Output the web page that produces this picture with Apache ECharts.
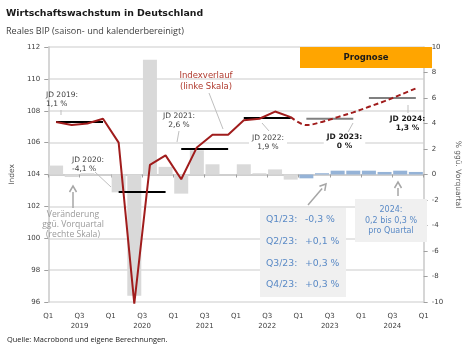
<!DOCTYPE html>
<html><head><meta charset="utf-8">
<script src="https://cdn.jsdelivr.net/npm/echarts@6/dist/echarts.min.js"></script>
<style>html,body{margin:0;padding:0;background:#fff}#c{width:470px;height:359px}</style>
</head><body><div id="c"></div>
<script>
// ---- data ----
const firstYear = 2019;
const quarterLabels = ['Q1', 'Q3'];
const growthHist = [0.7, -0.2, 0.1, 0.0, -1.4, -9.5, 9.0, 0.6, -1.5, 1.9, 0.8, 0.0, 0.8, 0.1, 0.4, -0.4];
const growthForecast = [-0.3, 0.1, 0.3, 0.3, 0.3, 0.2, 0.3, 0.2];
const indexHist = [107.3, 107.1, 107.2, 107.5, 106.0, 95.9, 104.6, 105.2, 103.7, 105.7, 106.5, 106.5, 107.4, 107.5, 107.95, 107.6];
const indexForecast = [107.1, 107.3, 107.6, 107.9, 108.25, 108.6, 109.0, 109.4];
const annualYears = [2019, 2020, 2021, 2022, 2023, 2024];
const annualAvg = [107.3, 102.9, 105.6, 107.55, 107.5, 108.8];
const forecastYears = [2023, 2024];

// ---- build ----
const nHist = growthHist.length;
const barData = [];
growthHist.forEach((v, i) => barData.push({ value: [i + 0.5, v], itemStyle: { color: '#d9d9d9' } }));
growthForecast.forEach((v, i) => barData.push({ value: [nHist + i + 0.5, v], itemStyle: { color: '#95b3d7' } }));
const histLine = indexHist.map((v, i) => [i + 0.5, v]);
const fcLine = [[nHist - 0.5, indexHist[nHist - 1]]].concat(indexForecast.map((v, i) => [nHist + i + 0.5, v]));
const avgSeries = annualYears.map((y, k) => {
  const s = (y - firstYear) * 4;
  const fc = forecastYears.includes(y);
  return {
    type: 'line', yAxisIndex: 0, symbol: 'none', silent: true, z: 3,
    lineStyle: { color: fc ? '#808080' : '#000000', width: 2 },
    data: [[s + 0.5, annualAvg[k]], [s + 3.5, annualAvg[k]]]
  };
});

const F = 'DejaVu Sans';
const O = 'Open Sans';
const dark = '#404040';
function txt(x, y, text, opt) {
  return Object.assign({ type: 'text', x: x, y: y, z: 50, silent: true,
    style: Object.assign({ text: text, fill: dark, font: '7.5px "' + F + '"', align: 'center', verticalAlign: 'middle', lineHeight: 9 }, opt || {}) });
}
function ln(x1, y1, x2, y2, c, w) {
  return { type: 'line', z: 40, silent: true, shape: { x1, y1, x2, y2 }, style: { stroke: c || '#bfbfbf', lineWidth: w || 1 } };
}
function arrow(x1, y1, x2, y2) {
  const a = Math.atan2(y2 - y1, x2 - x1), L = 6, W = 3.5;
  const bx = x2 - L * Math.cos(a), by = y2 - L * Math.sin(a);
  const px = -Math.sin(a), py = Math.cos(a);
  return [
    ln(x1, y1, bx, by, '#a6a6a6', 1.5),
    { type: 'polyline', z: 40, silent: true, shape: { points: [[bx + px * W, by + py * W], [x2, y2], [bx - px * W, by - py * W]] }, style: { stroke: '#a6a6a6', lineWidth: 1.5, fill: null } }
  ];
}

const chart = echarts.init(document.getElementById('c'), null, { renderer: 'canvas' });
chart.setOption({
  animation: false,
  backgroundColor: '#ffffff',
  grid: { left: 36, right: 38, top: 47, bottom: 57 },
  xAxis: {
    type: 'value', min: 0, max: 24, interval: 2, offset: 4,
    axisLine: { show: true, lineStyle: { color: '#c8c8c8', width: 1.5 } },
    axisTick: { show: true, length: 3, lineStyle: { color: '#a0a0a0' } },
    splitLine: { show: false },
    axisLabel: {
      color: dark, fontFamily: F, fontSize: 7, margin: 5, lineHeight: 10,
      formatter: v => (v % 4 === 0) ? quarterLabels[0] : quarterLabels[1] + '\n' + (firstYear + Math.floor(v / 4))
    }
  },
  yAxis: [
    {
      type: 'value', min: 96, max: 112, interval: 2, position: 'left',
      name: 'Index', nameLocation: 'middle', nameGap: 24, nameRotate: 90,
      nameTextStyle: { color: '#595959', fontFamily: F, fontSize: 7.5 },
      axisLine: { show: true, lineStyle: { color: '#c8c8c8', width: 1.5 } },
      axisTick: { show: true, length: 4, lineStyle: { color: '#a0a0a0' } },
      splitLine: { show: true, lineStyle: { color: '#dcdcdc', width: 1.5 } },
      axisLabel: { color: dark, fontFamily: F, fontSize: 7, margin: 8 }
    },
    {
      type: 'value', min: -10, max: 10, interval: 2, position: 'right',
      name: '% ggü. Vorquartal', nameLocation: 'middle', nameGap: 22, nameRotate: -90,
      nameTextStyle: { color: '#595959', fontFamily: F, fontSize: 7.5 },
      axisLine: { show: true, lineStyle: { color: '#c8c8c8', width: 1.5 } },
      axisTick: { show: true, length: 4, lineStyle: { color: '#a0a0a0' } },
      splitLine: { show: false },
      axisLabel: { color: dark, fontFamily: F, fontSize: 7, margin: 8 }
    }
  ],
  series: [
    { type: 'bar', yAxisIndex: 1, barWidth: 14, data: barData, silent: true, z: 1 },
    ...avgSeries,
    { type: 'line', yAxisIndex: 0, data: histLine, symbol: 'none', clip: false, z: 4, silent: true,
      lineStyle: { color: '#a01c1c', width: 2 } },
    { type: 'line', yAxisIndex: 0, data: fcLine, symbol: 'none', smooth: 0.35, z: 4, silent: true,
      lineStyle: { color: '#a01c1c', width: 2, type: [5, 3] } }
  ],
  graphic: [
    txt(6, 14, 'Wirtschaftswachstum in Deutschland', { align: 'left', font: 'bold 9.4px "' + F + '"', fill: '#1a1a1a' }),
    txt(6, 31, 'Reales BIP (saison- und kalenderbereinigt)', { align: 'left', font: '9.1px "' + O + '"', fill: dark }),
    txt(7, 339.5, 'Quelle: Macrobond und eigene Berechnungen.', { align: 'left', font: '7.4px "' + O + '"', fill: '#1a1a1a' }),
    // Prognose box
    { type: 'rect', z: 30, silent: true, shape: { x: 300, y: 47, width: 132, height: 21 }, style: { fill: '#ffa500' } },
    txt(366, 57.5, 'Prognose', { font: 'bold 8.5px "' + F + '"', fill: '#1a1a1a' }),
    // JD labels
    txt(46, 99.5, 'JD 2019:\n1,1 %', { align: 'left' }),
    ln(61, 110, 61, 115),
    txt(72, 165, 'JD 2020:\n-4,1 %', { align: 'left' }),
    ln(95, 172, 111, 187),
    txt(179, 121, 'JD 2021:\n2,6 %'),
    ln(179, 131, 177, 142),
    txt(268, 142.7, 'JD 2022:\n1,9 %', { backgroundColor: '#ffffff', padding: [1, 3] }),
    ln(262, 123, 269, 131),
    txt(344.5, 142, 'JD 2023:\n0 %', { font: 'bold 7.5px "' + F + '"', fill: '#1a1a1a', backgroundColor: '#ffffff', padding: [1, 3] }),
    ln(353, 123, 347, 134),
    txt(407.5, 124, 'JD 2024:\n1,3 %', { font: 'bold 7.5px "' + F + '"', fill: '#1a1a1a' }),
    ln(408, 105, 408, 113),
    // Indexverlauf
    txt(206, 81.5, 'Indexverlauf\n(linke Skala)', { font: '8.5px "' + F + '"', fill: '#b03a2e', lineHeight: 11 }),
    ln(209, 93, 223, 129),
    // Veränderung
    txt(73, 225, 'Veränderung\nggü. Vorquartal\n(rechte Skala)', { font: '8.6px "' + O + '"', fill: '#9a9a9a', lineHeight: 10 }),
    ...arrow(73, 208, 73, 186),
    // quarterly box
    { type: 'rect', z: 30, silent: true, shape: { x: 260, y: 208, width: 86, height: 89 }, style: { fill: '#f0f0f0' } },
    txt(266, 220, 'Q1/23:', { align: 'left', font: '9.3px "' + F + '"', fill: '#5a8ac6' }),
    txt(266, 241.7, 'Q2/23:', { align: 'left', font: '9.3px "' + F + '"', fill: '#5a8ac6' }),
    txt(266, 263.3, 'Q3/23:', { align: 'left', font: '9.3px "' + F + '"', fill: '#5a8ac6' }),
    txt(266, 285, 'Q4/23:', { align: 'left', font: '9.3px "' + F + '"', fill: '#5a8ac6' }),
    txt(305, 220, '-0,3 %', { align: 'left', font: '9.3px "' + F + '"', fill: '#5a8ac6' }),
    txt(305, 241.7, '+0,1 %', { align: 'left', font: '9.3px "' + F + '"', fill: '#5a8ac6' }),
    txt(305, 263.3, '+0,3 %', { align: 'left', font: '9.3px "' + F + '"', fill: '#5a8ac6' }),
    txt(305, 285, '+0,3 %', { align: 'left', font: '9.3px "' + F + '"', fill: '#5a8ac6' }),
    ...arrow(308, 205, 326, 184),
    // 2024 box
    { type: 'rect', z: 30, silent: true, shape: { x: 355, y: 199, width: 72, height: 43 }, style: { fill: '#f0f0f0' } },
    txt(391, 220.5, '2024:\n0,2 bis 0,3 %\npro Quartal', { font: '8px "' + F + '"', fill: '#5a8ac6', lineHeight: 10.3 }),
    ...arrow(398, 196, 398, 182)
  ]
});
</script>
</body></html>
